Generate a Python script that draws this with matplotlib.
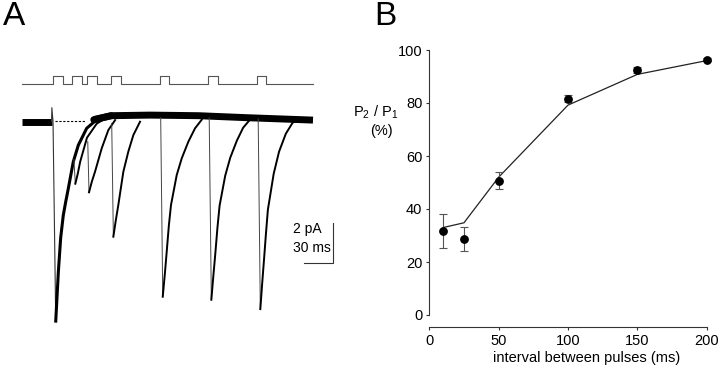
#!/usr/bin/env python
"""Paired-pulse traces (A) and recovery of P2/P1 with pulse interval (B)."""

import numpy as np
import matplotlib
matplotlib.use("Agg")
import matplotlib.pyplot as plt

plt.rcParams['font.family'] = ['Liberation Sans', 'DejaVu Sans']
plt.rcParams['mathtext.fontset'] = 'custom'
plt.rcParams['mathtext.rm'] = 'Liberation Sans'
plt.rcParams['mathtext.it'] = 'Liberation Sans:italic'

# ---- panel A data (time in ms, current in pA) ----
intervals = [10, 25, 50, 100, 150, 200]   # gap between end of pulse 1 and start of pulse 2
pulse_width = 10

pre_t = [-32, -1.5]
pre_i = [0.0, 0.0]
first_t = [-1.5, -1.2, 0.0, 2.8, 5.5, 7.9, 10.6, 13.1, 15.8, 20.9, 26.1, 34.7, 46.7]
first_i = [0.0, 0.7, 0.0, -9.97, -7.5, -5.8, -4.67, -4.0, -3.33, -2.0, -1.17, -0.33, 0.17]
tail_t = [42, 60, 100, 150, 200, 268]
tail_i = [0.1, 0.3, 0.33, 0.3, 0.2, 0.08]

second_t = [
    [21.5, 23.0, 25.5, 28.0, 35.0, 45.0, 55.0],
    [35.8, 37.1, 40.0, 43.3, 50.2, 57.0, 64.0],
    [60.5, 62.2, 64.5, 67.3, 70.0, 72.5, 77.6, 82.8, 89.7],
    [111.0, 113.1, 115.3, 117.2, 119.4, 121.6, 127.5, 132.7, 139.5, 146.4, 153.3],
    [161.0, 163.2, 165.3, 167.3, 169.5, 171.7, 177.5, 182.7, 189.5, 196.0, 203.0],
    [211.5, 213.7, 215.6, 217.5, 219.5, 221.5, 227.5, 233.0, 240.0, 247.0, 254.0],
]
second_i = [
    [-1.9, -3.1, -2.6, -2.0, -0.8, -0.1, 0.2],
    [-1.0, -3.53, -3.0, -2.5, -1.33, -0.42, 0.08],
    [-0.08, -5.75, -5.0, -4.17, -3.3, -2.5, -1.5, -0.67, 0.0],
    [0.2, -8.75, -7.6, -6.5, -5.2, -4.17, -2.67, -1.83, -1.0, -0.33, 0.1],
    [0.2, -8.9, -7.7, -6.6, -5.3, -4.2, -2.7, -1.8, -0.95, -0.3, 0.1],
    [0.15, -9.37, -8.1, -6.9, -5.6, -4.4, -2.6, -1.5, -0.6, -0.05, 0.1],
]

# ---- panel B data ----
interval_ms = [10, 25, 50, 100, 150, 200]
ratio_mean = [31.7, 28.8, 50.7, 81.6, 92.5, 96.4]
ratio_sem = [6.4, 4.5, 3.1, 1.3, 1.1, 0.6]
ratio_fit = [33.0, 34.8, 52.0, 79.2, 90.8, 96.0]

fig = plt.figure(figsize=(7.2, 3.72), dpi=100)

# ---------------- A ----------------
axA = fig.add_axes([15/720, 42/372, 330/720, 260/372])
axA.set_xlim(-39.2, 301.0)
axA.set_ylim(-10.415, 2.585)
axA.axis('off')

# stimulus protocol above the traces
onsets = [0] + [pulse_width + i for i in intervals]
stim_t, stim_v = [pre_t[0]], [0]
for on in onsets:
    stim_t += [on, on, on + pulse_width, on + pulse_width]
    stim_v += [0, 1, 1, 0]
stim_t.append(tail_t[-1])
stim_v.append(0)
axA.plot(stim_t, 1.87 + 0.43*np.array(stim_v), color='#555555', lw=0.8)

# noisy baseline drawn as a band
axA.plot(pre_t, pre_i, color='k', lw=5, solid_capstyle='butt')
axA.plot(tail_t, tail_i, color='k', lw=5, solid_capstyle='butt')
axA.plot(tail_t[:2], tail_i[:2], color='k', lw=5, solid_capstyle='round')
# first response (all traces overlap)
axA.plot(first_t[:4], first_i[:4], color='#333333', lw=0.8)
axA.plot(first_t[3:], first_i[3:], color='k', lw=2.2)
# second responses
for t, i in zip(second_t, second_i):
    axA.plot(t[:2], i[:2], color='#444444', lw=0.7)
    axA.plot(t[1:], i[1:], color='k', lw=1.4)

axA.plot([2, 33], [0.05, 0.05], color='k', lw=0.8, dashes=(2, 1.5))

# scale bar
axA.plot([259, 289, 289], [-7.08, -7.08, -5.08], color='#333333', lw=0.8)
axA.text(247.4, -5.39, '2 pA', fontsize=10, va='center', ha='left')
axA.text(247.4, -6.34, '30 ms', fontsize=10, va='center', ha='left')

# ---------------- B ----------------
axB = fig.add_axes([429.3/720, 57/372, 277.4/720, 265/372])
axB.plot(interval_ms, ratio_fit, color='#222222', lw=0.9)
axB.errorbar(interval_ms, ratio_mean, yerr=ratio_sem, fmt='o', color='k',
             ms=5.3, ecolor='#555555', elinewidth=0.8, capsize=3.2,
             capthick=0.8, clip_on=False, zorder=3)
axB.set_xlim(0, 200)
axB.set_ylim(0, 100)
axB.set_xticks([0, 50, 100, 150, 200])
axB.set_yticks([0, 20, 40, 60, 80, 100])
for s in ['top', 'right']:
    axB.spines[s].set_visible(False)
axB.spines['bottom'].set_position(('outward', 8.4))
for s in ['bottom', 'left']:
    axB.spines[s].set_linewidth(0.8)
    axB.spines[s].set_color('#333333')
axB.tick_params(direction='out', length=2.5, width=0.8, pad=2.5,
                labelsize=10.5, color='#333333')

fig.text(586.5/720, 1 - 358.3/372, 'interval between pulses (ms)',
         fontsize=10.5, ha='center', va='center')
fig.text(376/720, 1 - 112/372, r'P$_2$ / P$_1$', fontsize=10.5,
         ha='center', va='center')
fig.text(381/720, 1 - 131/372, '(%)', fontsize=10.5, ha='center', va='center')

fig.text(3/720, 1 - 1/372, 'A', fontsize=24, ha='left', va='top')
fig.text(374/720, 1 - 1/372, 'B', fontsize=24, ha='left', va='top')

fig.savefig('out.png', dpi=100)
